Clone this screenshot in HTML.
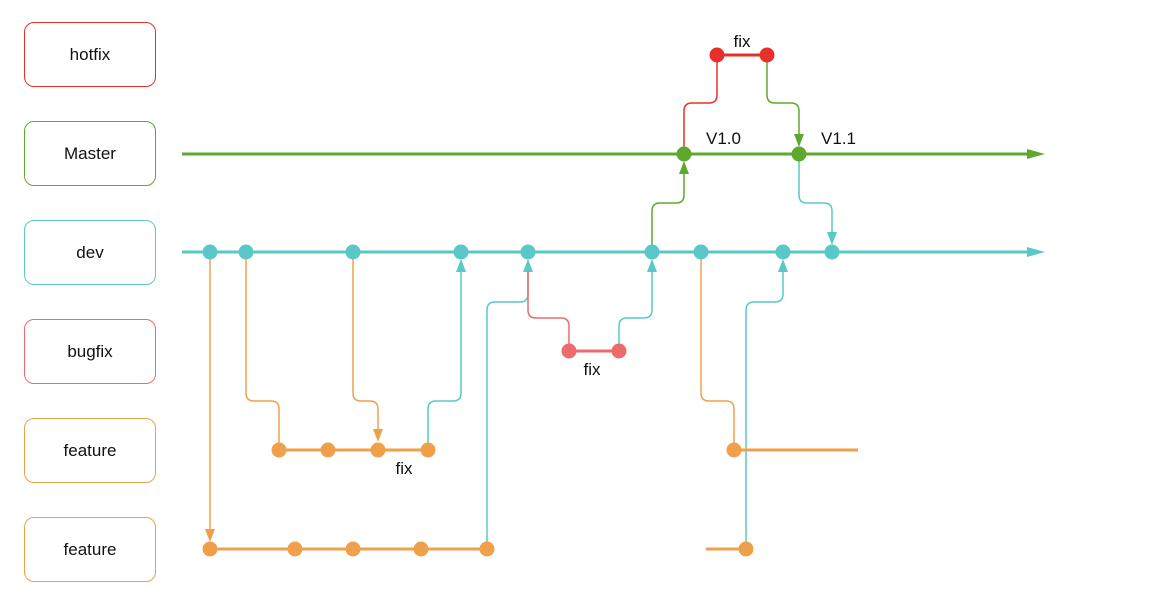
<!DOCTYPE html>
<html><head><meta charset="utf-8"><style>
body{margin:0;background:#fff;width:1158px;height:590px;overflow:hidden;font-family:"Liberation Sans",sans-serif}
.b{position:absolute;left:24px;width:130px;height:63px;border:1.5px solid;border-radius:10px;display:flex;align-items:center;justify-content:center;font-size:17px;color:#111;background:#fff}
svg{position:absolute;left:0;top:0}
</style></head><body>
<div class="b" style="top:22px;border-color:#e8302a">hotfix</div>
<div class="b" style="top:121px;border-color:#5ea82c">Master</div>
<div class="b" style="top:220px;border-color:#5ac8c8">dev</div>
<div class="b" style="top:319px;border-color:#ec6b6b">bugfix</div>
<div class="b" style="top:418px;border-color:#f0a04b">feature</div>
<div class="b" style="top:517px;border-color:#f0a04b">feature</div>
<svg width="1158" height="590" viewBox="0 0 1158 590" font-family="Liberation Sans, sans-serif" font-size="17">
<g fill="none" stroke-width="1.5">
<!-- connectors: vertical-horizontal-vertical with rounded corners -->
<path d="M246 252V393q0 8 8 8h17q8 0 8 8V450" stroke="#f0a04b"/>
<path d="M353 252V393q0 8 8 8h9q8 0 8 8V436" stroke="#f0a04b"/>
<path d="M428 450V409q0-8 8-8h17q8 0 8-8V266" stroke="#5ac8c8"/>
<path d="M210 252V535" stroke="#f0a04b"/>
<path d="M487 549V310q0-8 8-8h25q8 0 8-8V266" stroke="#5ac8c8"/>
<path d="M528 266V310q0 8 8 8h25q8 0 8 8V351" stroke="#ec6b6b"/>
<path d="M619 351V326q0-8 8-8h17q8 0 8-8V266" stroke="#5ac8c8"/>
<path d="M652 252V211q0-8 8-8h16q8 0 8-8V168" stroke="#5ea82c"/>
<path d="M684 154V111q0-8 8-8h17q8 0 8-8V55" stroke="#e8302a"/>
<path d="M767 55V95q0 8 8 8h16q8 0 8 8V140" stroke="#5ea82c"/>
<path d="M799 154V195q0 8 8 8h17q8 0 8 8V238" stroke="#5ac8c8"/>
<path d="M701 252V393q0 8 8 8h17q8 0 8 8V450" stroke="#f0a04b"/>
<path d="M746 549V310q0-8 8-8h21q8 0 8-8V266" stroke="#5ac8c8"/>
</g>
<g stroke-width="3">
<line x1="182" y1="154" x2="1030" y2="154" stroke="#5ea82c"/>
<line x1="182" y1="252" x2="1030" y2="252" stroke="#5ac8c8"/>
<line x1="717" y1="55" x2="767" y2="55" stroke="#e8302a"/>
<line x1="569" y1="351" x2="619" y2="351" stroke="#ec6b6b"/>
<line x1="279" y1="450" x2="428" y2="450" stroke="#f0a04b"/>
<line x1="734" y1="450" x2="858" y2="450" stroke="#f0a04b"/>
<line x1="210" y1="549" x2="487" y2="549" stroke="#f0a04b"/>
<line x1="706" y1="549" x2="746" y2="549" stroke="#f0a04b"/>
</g>
<polygon points="1045,154 1027,149 1027,159" fill="#5ea82c"/>
<polygon points="1045,252 1027,247 1027,257" fill="#5ac8c8"/>
<!-- arrowheads -->
<g>
<polygon points="378,442 373,429 383,429" fill="#f0a04b"/>
<polygon points="210,542 205,529 215,529" fill="#f0a04b"/>
<polygon points="461,259 456,272 466,272" fill="#5ac8c8"/>
<polygon points="528,259 523,272 533,272" fill="#5ac8c8"/>
<polygon points="652,259 647,272 657,272" fill="#5ac8c8"/>
<polygon points="783,259 778,272 788,272" fill="#5ac8c8"/>
<polygon points="684,161 679,174 689,174" fill="#5ea82c"/>
<polygon points="799,147 794,134 804,134" fill="#5ea82c"/>
<polygon points="832,245 827,232 837,232" fill="#5ac8c8"/>
</g>
<g fill="#5ac8c8"><circle cx="210" cy="252" r="7.5"/><circle cx="246" cy="252" r="7.5"/><circle cx="353" cy="252" r="7.5"/><circle cx="461" cy="252" r="7.5"/><circle cx="528" cy="252" r="7.5"/><circle cx="652" cy="252" r="7.5"/><circle cx="701" cy="252" r="7.5"/><circle cx="783" cy="252" r="7.5"/><circle cx="832" cy="252" r="7.5"/></g>
<g fill="#5ea82c"><circle cx="684" cy="154" r="7.5"/><circle cx="799" cy="154" r="7.5"/></g>
<g fill="#e8302a"><circle cx="717" cy="55" r="7.5"/><circle cx="767" cy="55" r="7.5"/></g>
<g fill="#ec6b6b"><circle cx="569" cy="351" r="7.5"/><circle cx="619" cy="351" r="7.5"/></g>
<g fill="#f0a04b"><circle cx="279" cy="450" r="7.5"/><circle cx="328" cy="450" r="7.5"/><circle cx="378" cy="450" r="7.5"/><circle cx="428" cy="450" r="7.5"/><circle cx="734" cy="450" r="7.5"/>
<circle cx="210" cy="549" r="7.5"/><circle cx="295" cy="549" r="7.5"/><circle cx="353" cy="549" r="7.5"/><circle cx="421" cy="549" r="7.5"/><circle cx="487" cy="549" r="7.5"/><circle cx="746" cy="549" r="7.5"/></g>
<g fill="#111">
<text x="742" y="47" text-anchor="middle">fix</text>
<text x="706" y="144">V1.0</text>
<text x="821" y="144">V1.1</text>
<text x="592" y="375" text-anchor="middle">fix</text>
<text x="404" y="474" text-anchor="middle">fix</text>
</g>
</svg>
</body></html>
